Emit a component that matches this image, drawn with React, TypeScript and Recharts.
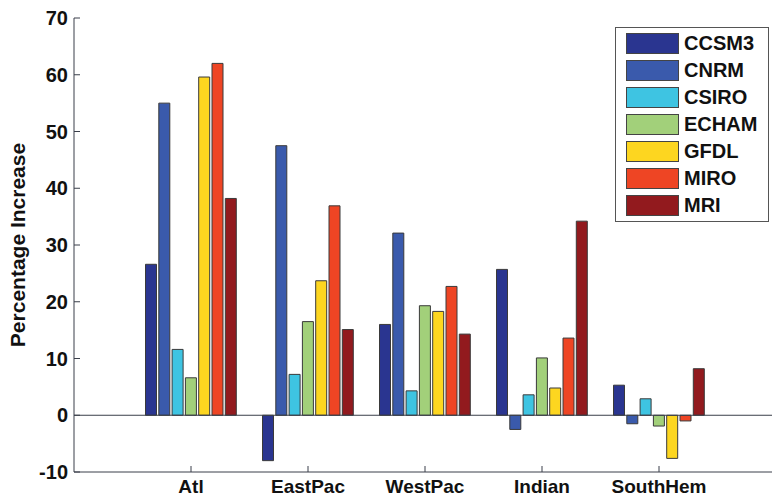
import React from 'react';
import { BarChart, Bar, XAxis, YAxis, ReferenceLine, Legend } from 'recharts';

const regions = ['Atl', 'EastPac', 'WestPac', 'Indian', 'SouthHem'];
const models = ['CCSM3', 'CNRM', 'CSIRO', 'ECHAM', 'GFDL', 'MIRO', 'MRI'];

const ccsm3 = [26.6, -8.0, 16.0, 25.7, 5.3];
const cnrm = [55.0, 47.5, 32.1, -2.5, -1.5];
const csiro = [11.6, 7.2, 4.3, 3.6, 2.9];
const echam = [6.6, 16.5, 19.3, 10.1, -1.9];
const gfdl = [59.6, 23.7, 18.3, 4.8, -7.6];
const miro = [62.0, 36.9, 22.7, 13.6, -1.0];
const mri = [38.2, 15.1, 14.3, 34.2, 8.2];

const yTicks = [-10, 0, 10, 20, 30, 40, 50, 60, 70];

const colors = ['#2a3590', '#3a5aac', '#3ec4e2', '#a2d07a', '#fdd620', '#ee4524', '#921a1e'];

const series = [ccsm3, cnrm, csiro, echam, gfdl, miro, mri];

const data = regions.map((region, i) => {
  const row: Record<string, string | number> = { region };
  models.forEach((m, k) => {
    row[m] = series[k][i];
  });
  return row;
});

const font = '"Liberation Sans", Arial, sans-serif';
const axisColor = '#3a3f4a';

function LegendBox() {
  return (
    <div
      style={{
        position: 'absolute',
        left: 615,
        top: 27,
        width: 152,
        height: 193,
        border: '1px solid #555',
        background: '#fff',
        fontFamily: font,
        fontWeight: 'bold',
        fontSize: 20,
        color: '#111',
      }}
    >
      {models.map((m, k) => (
        <div
          key={m}
          style={{ position: 'absolute', left: 10, top: 5 + k * 27, height: 21, display: 'flex', alignItems: 'center' }}
        >
          <div style={{ width: 51, height: 19, background: colors[k], border: '1px solid #444' }} />
          <span style={{ marginLeft: 5 }}>{m}</span>
        </div>
      ))}
    </div>
  );
}

export default function App() {
  return (
    <div style={{ position: 'absolute', left: 0, top: 0, width: 772, height: 498, overflow: 'hidden', background: '#fff' }}>
      <BarChart
        width={780}
        height={498}
        data={data}
        margin={{ top: 18, right: 4, left: 0, bottom: 0 }}
        barSize={11}
        barGap={2.3}
      >
        <XAxis
          dataKey="region"
          height={26}
          padding={{ left: 58.5, right: 58.5 }}
          axisLine={{ stroke: axisColor }}
          tickLine={{ stroke: axisColor }}
          tickSize={-6}
          tickMargin={14}
          tick={{ fill: '#111', fontSize: 19, fontWeight: 'bold', fontFamily: font }}
        />
        <XAxis
          xAxisId="top"
          dataKey="region"
          orientation="top"
          height={0}
          padding={{ left: 58.5, right: 58.5 }}
          axisLine={{ stroke: axisColor }}
          tickLine={{ stroke: axisColor }}
          tickSize={-6}
          tick={false}
        />
        <YAxis
          width={74}
          domain={[-10, 70]}
          ticks={yTicks}
          allowDataOverflow
          axisLine={{ stroke: axisColor }}
          tickLine={{ stroke: axisColor }}
          tickSize={-6}
          tickMargin={12}
          tick={{ fill: '#111', fontSize: 20, fontWeight: 'bold', fontFamily: font }}
          label={{
            value: 'Percentage Increase',
            angle: -90,
            position: 'insideLeft',
            dx: 13,
            style: { fill: '#111', fontSize: 21, fontWeight: 'bold', fontFamily: font, textAnchor: 'middle' },
          }}
        />
        <YAxis
          yAxisId="right"
          orientation="right"
          width={0}
          domain={[-10, 70]}
          ticks={yTicks}
          allowDataOverflow
          axisLine={{ stroke: axisColor }}
          tickLine={{ stroke: axisColor }}
          tickSize={-6}
          tick={false}
        />
        <ReferenceLine y={0} stroke={axisColor} strokeWidth={1} ifOverflow="extendDomain" />
        {models.map((m, k) => (
          <Bar key={m} dataKey={m} fill={colors[k]} stroke="#3a3a3a" strokeWidth={1} isAnimationActive={false} />
        ))}
        <Legend content={() => <LegendBox />} wrapperStyle={{ position: 'absolute', left: 0, top: 0, width: 0, height: 0 }} />
      </BarChart>
    </div>
  );
}
